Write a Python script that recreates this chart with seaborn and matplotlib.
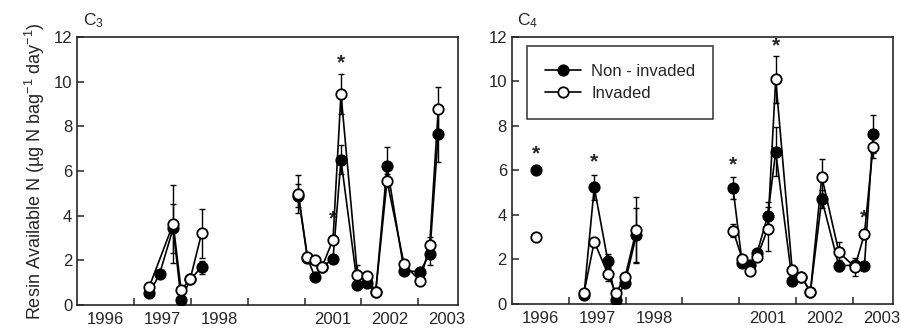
import numpy as np
import pandas as pd
import matplotlib
matplotlib.use("Agg")
import matplotlib.pyplot as plt
from matplotlib.lines import Line2D
import seaborn as sns

# ======================================
# DATA
# ======================================

# sampling positions on the (broken) time axis, one unit per year segment
x_pos = [0.43, 1.27, 1.45, 1.69, 1.83, 1.99, 2.19, 3.89, 4.05, 4.18, 4.31,
         4.50, 4.64, 4.93, 5.09, 5.25, 5.45, 5.75, 6.03, 6.20, 6.35]

year_labels = ["1996", "1997", "1998", "2001", "2002", "2003"]
year_label_pos = [0.5, 1.5, 2.5, 4.5, 5.5, 6.5]
tick_pos = [1, 2, 3, 4, 5, 6]

# C3 panel
c3_non = [np.nan, 0.52, 1.38, 3.44, 0.22, 1.15, 1.69, 4.90, 2.10, 1.27, 1.72,
          2.05, 6.50, 0.88, 1.00, 0.58, 6.20, 1.52, 1.50, 2.27, 7.67]
c3_non_err = [np.nan, 0.10, 0.10, 1.10, 0.10, 0.10, 0.30, 0.50, 0.10, 0.10, 0.10,
              0.15, 0.65, 0.15, 0.15, 0.10, 0.88, 0.15, 0.15, 0.50, 1.25]
c3_inv = [np.nan, 0.82, np.nan, 3.63, 0.67, 1.17, 3.21, 4.96, 2.17, 2.02, 1.72,
          2.93, 9.46, 1.33, 1.30, 0.58, 5.56, 1.82, 1.08, 2.68, 8.78]
c3_inv_err = [np.nan, 0.10, np.nan, 1.75, 0.10, 0.10, 1.10, 0.85, 0.10, 0.10, 0.10,
              0.20, 0.90, 0.45, 0.15, 0.10, 0.30, 0.15, 0.20, 0.35, 1.00]
c3_stars_x = [4.50, 4.64]
c3_stars_y = [3.85, 10.85]

# C4 panel
c4_non = [6.02, 0.40, 5.24, 1.93, 0.18, 0.93, 3.10, 5.20, 1.85, 1.75, 2.27,
          3.97, 6.84, 1.03, 1.23, 0.55, 4.71, 1.71, 1.75, 1.71, 7.62]
c4_non_err = [0.0, 0.10, 0.55, 0.30, 0.10, 0.10, 1.20, 0.50, 0.10, 0.10, 0.15,
              0.60, 1.10, 0.15, 0.10, 0.10, 0.40, 0.25, 0.20, 0.15, 0.85]
c4_inv = [3.02, 0.50, 2.80, 1.35, 0.48, 1.20, 3.32, 3.30, 2.04, 1.50, 2.10,
          3.37, 10.10, 1.53, 1.23, 0.55, 5.72, 2.33, 1.66, 3.14, 7.04]
c4_inv_err = [0.0, 0.10, 0.15, 0.30, 0.10, 0.10, 1.50, 0.30, 0.10, 0.10, 0.10,
              1.00, 1.05, 0.20, 0.10, 0.10, 0.80, 0.45, 0.40, 0.20, 0.50]
c4_stars_x = [0.43, 1.45, 3.89, 4.64, 6.20]
c4_stars_y = [6.75, 6.40, 6.25, 11.60, 3.85]

# ======================================
# LONG TABLE
# ======================================

def build(panel, non, non_err, inv, inv_err):
    rows = []
    for name, vals, errs in [("Non - invaded", non, non_err),
                             ("Invaded", inv, inv_err)]:
        for x, v, e in zip(x_pos, vals, errs):
            seg = 0 if x < 1 else (1 if x < 3 else 2)
            rows.append({"panel": panel, "series": name, "x": x,
                         "value": v, "err": e, "segment": seg})
    return pd.DataFrame(rows).dropna(subset=["value"])

df = pd.concat([
    build("C3", c3_non, c3_non_err, c3_inv, c3_inv_err),
    build("C4", c4_non, c4_non_err, c4_inv, c4_inv_err),
])

# ======================================
# PLOT
# ======================================

sns.set_style("ticks")
plt.rcParams["font.family"] = ["Liberation Sans", "DejaVu Sans"]
plt.rcParams["mathtext.default"] = "regular"

fig = plt.figure(figsize=(9.01, 3.31), dpi=100)
ax_l = fig.add_axes([0.0855, 0.0785, 0.423, 0.81])
ax_r = fig.add_axes([0.568, 0.0816, 0.423, 0.807])

faces = {"Non - invaded": "black", "Invaded": "white"}
stars = {"C3": (c3_stars_x, c3_stars_y), "C4": (c4_stars_x, c4_stars_y)}

for ax, panel, sub in [(ax_l, "C3", "3"), (ax_r, "C4", "4")]:
    d = df[df["panel"] == panel]
    for z, name in enumerate(["Non - invaded", "Invaded"]):
        s = d[d["series"] == name]
        ax.errorbar(s["x"], s["value"], yerr=s["err"], fmt="none",
                    ecolor="black", elinewidth=1.0, capsize=2.2,
                    capthick=1.0, zorder=2 + 2 * z)
        sns.lineplot(data=s, x="x", y="value", units="segment",
                     estimator=None, ax=ax, color="black", linewidth=1.2,
                     marker="o", markersize=7.5,
                     markerfacecolor=faces[name], markeredgecolor="black",
                     markeredgewidth=1.3, legend=False, zorder=3 + 2 * z)

    sx, sy = stars[panel]
    for x, y in zip(sx, sy):
        ax.text(x, y, "*", ha="center", va="center", fontsize=15,
                fontweight="bold")

    ax.set_xlim(0, 6.7)
    ax.set_ylim(0, 12)
    ax.set_yticks(range(0, 13, 2))
    ax.set_xticks(tick_pos)
    ax.set_xticklabels([])
    ax.set_xticks(year_label_pos, minor=True)
    ax.set_xticklabels(year_labels, minor=True)
    ax.tick_params(axis="x", which="minor", length=0, labelsize=12, pad=5)
    ax.tick_params(axis="both", which="major", direction="in", length=5,
                   width=1.1, labelsize=12)
    ax.set_xlabel("")
    ax.set_ylabel("")
    for sp in ax.spines.values():
        sp.set_linewidth(1.2)
        sp.set_visible(True)
    ax.text(0.015, 1.025, "C$_{" + sub + "}$", transform=ax.transAxes,
            fontsize=12.5, ha="left", va="bottom")

ax_l.set_ylabel("Resin Available N (µg N bag$^{-1}$ day$^{-1}$)",
                fontsize=13, labelpad=5)

handles = [
    Line2D([], [], color="black", lw=1.2, marker="o", markersize=7.5,
           markerfacecolor="black", markeredgecolor="black",
           markeredgewidth=1.3),
    Line2D([], [], color="black", lw=1.2, marker="o", markersize=7.5,
           markerfacecolor="white", markeredgecolor="black",
           markeredgewidth=1.3),
]
leg = ax_r.legend(handles, ["Non - invaded", "Invaded"], loc="upper left",
                  bbox_to_anchor=(0.04, 0.965), fontsize=12, frameon=True,
                  fancybox=False, edgecolor="black", handlelength=2.2,
                  handletextpad=0.6, borderpad=1.05, labelspacing=0.45,
                  borderaxespad=0)
leg.get_frame().set_linewidth(1.1)

fig.savefig("out.png", dpi=100)
